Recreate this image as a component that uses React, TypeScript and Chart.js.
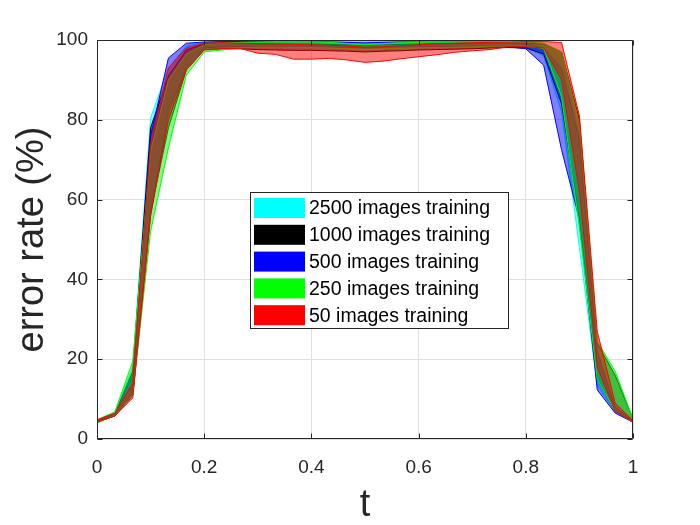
import React, { useEffect, useRef } from "react";
import { Chart, registerables } from "chart.js";

Chart.register(...registerables);

// t sample positions (x axis)
const tValues = [
  0, 0.0333, 0.0667, 0.1, 0.1333, 0.1667, 0.2, 0.2333, 0.2667, 0.3, 0.3333,
  0.3667, 0.4, 0.4333, 0.4667, 0.5, 0.5333, 0.5667, 0.6, 0.6333, 0.6667, 0.7,
  0.7333, 0.7667, 0.8, 0.8333, 0.8667, 0.9, 0.9333, 0.9667, 1,
];

const seriesNames = [
  "2500 images training",
  "1000 images training",
  "500 images training",
  "250 images training",
  "50 images training",
];

const seriesColors = ["#00ffff", "#000000", "#0000ff", "#00ff00", "#ff0000"];
const seriesFills = [
  "rgba(0,255,255,0.5)",
  "rgba(0,0,0,0.5)",
  "rgba(0,0,255,0.5)",
  "rgba(0,255,0,0.5)",
  "rgba(255,0,0,0.5)",
];

// upper / lower error-rate bounds (%) per training size
const cyanHi = [4.6, 6.3, 18, 80.5, 93, 98.5, 99.4, 99.5, 99.6, 99.6, 99.5, 99.5, 99.6, 99.6, 99.7, 99.7, 99.6, 99.6, 99.5, 99.5, 99.6, 99.6, 99.6, 99.5, 99.3, 98.8, 96, 76, 20, 8, 4.8];
const cyanLo = [4.2, 5.8, 11, 58, 80, 93, 98, 98.2, 98.3, 98.3, 98.2, 98.1, 98.2, 98.3, 98.2, 98.1, 98.2, 98.3, 98.3, 98.4, 98.4, 98.4, 98.5, 98.4, 98.2, 96, 82, 48, 13.5, 6.8, 4.2];

const blackHi = [4.7, 6.3, 17, 78, 91, 97.5, 99, 99.2, 99.2, 99.1, 99, 99, 99, 98.9, 98.8, 98.6, 98.8, 98.9, 99, 99.1, 99.1, 99.2, 99.3, 99.3, 99.2, 99, 97, 80, 24, 16, 5];
const blackLo = [4.3, 5.8, 11, 57, 78, 92.5, 97.6, 97.8, 97.8, 97.6, 97.5, 97.4, 97.4, 97.3, 97.2, 97, 97.2, 97.3, 97.5, 97.6, 97.7, 97.8, 98, 98.1, 98, 96.5, 84, 55, 15, 7, 4.3];

const blueHi = [4.6, 6.2, 16, 76, 95.5, 99.2, 99.5, 99.6, 99.6, 99.6, 99.5, 99.5, 99.5, 99.5, 99.4, 99.3, 99.4, 99.5, 99.5, 99.5, 99.5, 99.5, 99.5, 99.4, 99, 98, 93, 75, 22, 8, 4.6];
const blueLo = [4.2, 5.8, 11, 56, 82, 93, 98, 98.3, 98.4, 98.4, 98.3, 98.3, 98.3, 98.2, 98.2, 98, 98.2, 98.3, 98.3, 98.3, 98.4, 98.4, 98.4, 98.3, 97.8, 93.7, 72.5, 55, 12.3, 6.5, 4.2];

const greenHi = [4.8, 6.8, 19.5, 72, 90, 96.5, 98.8, 99.2, 99.4, 99.5, 99.5, 99.5, 99.5, 99.4, 99.1, 98.8, 99.1, 99.3, 99.4, 99.5, 99.5, 99.5, 99.5, 99.5, 99.5, 99.2, 97, 79, 24.5, 17, 5];
const greenLo = [4.0, 5.9, 11, 52, 73, 91.2, 97, 97.5, 98, 98.2, 98.2, 98.1, 98.1, 98, 97.8, 97.5, 97.7, 97.9, 98, 98.1, 98.2, 98.3, 98.4, 98.5, 98.5, 97.9, 85.8, 53, 15, 7, 4.2];

const redHi = [4.8, 6.5, 14, 74, 93, 98, 99.2, 99.3, 99.2, 99.1, 99, 98.9, 98.8, 98.7, 98.5, 98.2, 98.3, 98.6, 98.8, 99, 99.2, 99.3, 99.4, 99.5, 99.6, 99.6, 99.4, 81, 27, 9, 4.6];
const redLo = [4.2, 5.8, 10.3, 56, 80, 92.5, 97.5, 97.8, 97.9, 96.7, 96.4, 95.2, 95.2, 95.4, 95, 94.4, 94.7, 95.3, 95.8, 96.3, 96.9, 97.3, 97.6, 98.3, 98.3, 98, 90, 62, 18, 7, 4.2];

const xTickValues = [0, 0.2, 0.4, 0.6, 0.8, 1];
const yTickValues = [0, 20, 40, 60, 80, 100];
const xTitle = "t";
const yTitle = "error rate (%)";

const FONT = "'Liberation Sans', Arial, Helvetica, sans-serif";
const AXIS = "#262626";
const GRID = "#dfdfdf";

const boxPlugin = {
  id: "matlabBox",
  afterDatasetsDraw(chart: any) {
    const { ctx, chartArea: a, scales } = chart;
    const L = Math.round(a.left) + 0.5;
    const R = Math.round(a.right) - 0.5;
    const T = Math.round(a.top) + 0.5;
    const B = Math.round(a.bottom) - 0.5;
    ctx.save();
    ctx.strokeStyle = AXIS;
    ctx.lineWidth = 1;
    ctx.beginPath();
    ctx.rect(L, T, R - L, B - T);
    ctx.stroke();
    const tl = 5;
    ctx.beginPath();
    for (const v of xTickValues) {
      const px = Math.round(scales.x.getPixelForValue(v)) + 0.5;
      ctx.moveTo(px, B);
      ctx.lineTo(px, B - tl);
      ctx.moveTo(px, T);
      ctx.lineTo(px, T + tl);
    }
    for (const v of yTickValues) {
      const py = Math.round(scales.y.getPixelForValue(v)) + 0.5;
      ctx.moveTo(L, py);
      ctx.lineTo(L + tl, py);
      ctx.moveTo(R, py);
      ctx.lineTo(R - tl, py);
    }
    ctx.stroke();
    ctx.restore();
  },
};

const legendPlugin = {
  id: "boxLegend",
  afterDraw(chart: any) {
    const { ctx } = chart;
    const x0 = 250.5;
    const y0 = 192.5;
    const w = 258;
    const h = 136;
    ctx.save();
    ctx.fillStyle = "#ffffff";
    ctx.fillRect(x0, y0, w, h);
    ctx.strokeStyle = AXIS;
    ctx.lineWidth = 1;
    ctx.strokeRect(x0, y0, w, h);
    ctx.font = `19.5px ${FONT}`;
    ctx.textBaseline = "middle";
    ctx.textAlign = "left";
    seriesNames.forEach((name, i) => {
      const cy = 208 + i * 26.8;
      ctx.fillStyle = seriesColors[i];
      ctx.fillRect(254, cy - 10, 51, 20);
      ctx.fillStyle = "#000000";
      ctx.fillText(name, 309, cy + 1);
    });
    ctx.restore();
  },
};

export default function App() {
  const ref = useRef<HTMLCanvasElement>(null);
  useEffect(() => {
    const canvas = ref.current;
    if (!canvas) return;
    const uppers = [cyanHi, blackHi, blueHi, greenHi, redHi];
    const lowers = [cyanLo, blackLo, blueLo, greenLo, redLo];
    const datasets: any[] = [];
    // index 0 is drawn on top in Chart.js; put 50-image series first
    for (let i = seriesNames.length - 1; i >= 0; i--) {
      datasets.push({
        label: seriesNames[i] + " upper",
        data: tValues.map((t, k) => ({ x: t, y: uppers[i][k] })),
        borderColor: seriesColors[i],
        borderWidth: 1,
        pointRadius: 0,
        fill: false,
        tension: 0,
      });
      datasets.push({
        label: seriesNames[i] + " lower",
        data: tValues.map((t, k) => ({ x: t, y: lowers[i][k] })),
        borderColor: seriesColors[i],
        backgroundColor: seriesFills[i],
        borderWidth: 1,
        pointRadius: 0,
        fill: "-1",
        tension: 0,
      });
    }
    const chart = new Chart(canvas, {
      type: "line",
      data: { datasets },
      options: {
        responsive: false,
        animation: false,
        devicePixelRatio: 1,
        layout: { padding: { top: 40, right: 67, left: 0, bottom: 0 } },
        plugins: {
          legend: { display: false },
          tooltip: { enabled: false },
        },
        scales: {
          x: {
            type: "linear",
            min: 0,
            max: 1,
            afterFit: (s: any) => {
              s.height = 86;
            },
            afterBuildTicks: (s: any) => {
              s.ticks = xTickValues.map((v) => ({ value: v }));
            },
            ticks: {
              color: AXIS,
              font: { family: FONT, size: 19 },
              padding: 17,
              maxRotation: 0,
              callback: (v: any) => String(v),
            },
            grid: { color: GRID, drawTicks: false, lineWidth: 1 },
            border: { display: false },
            title: {
              display: true,
              text: xTitle,
              color: AXIS,
              font: { family: FONT, size: 38, lineHeight: 1 },
              padding: { top: 0, bottom: 0 },
            },
          },
          y: {
            type: "linear",
            min: 0,
            max: 100,
            afterFit: (s: any) => {
              s.width = 97;
            },
            afterBuildTicks: (s: any) => {
              s.ticks = yTickValues.map((v) => ({ value: v }));
            },
            ticks: {
              color: AXIS,
              font: { family: FONT, size: 19 },
              padding: 9,
              callback: (v: any) => String(v),
            },
            grid: { color: GRID, drawTicks: false, lineWidth: 1 },
            border: { display: false },
            title: {
              display: true,
              text: yTitle,
              color: AXIS,
              font: { family: FONT, size: 38, lineHeight: 1 },
              padding: { top: 14, bottom: 0 },
            },
          },
        },
      },
      plugins: [boxPlugin, legendPlugin],
    });
    return () => chart.destroy();
  }, []);
  return (
    <div style={{ position: "fixed", left: 0, top: 0, width: 700, height: 525, background: "#ffffff" }}>
      <canvas ref={ref} width={700} height={525} style={{ display: "block", width: 700, height: 525 }} />
    </div>
  );
}
